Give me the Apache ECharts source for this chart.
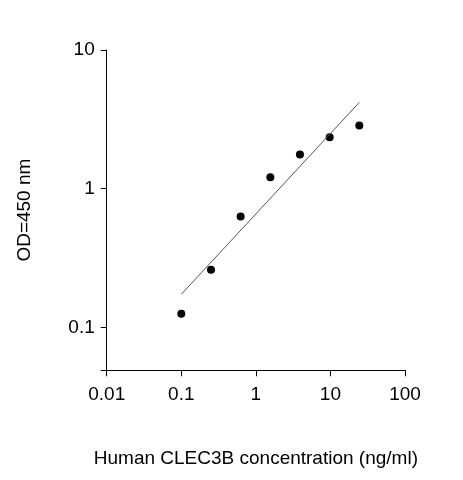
<!DOCTYPE html><html><head><script src="https://cdn.jsdelivr.net/npm/echarts@6/dist/echarts.min.js"></script></head><body style="margin:0"><div id="c" style="width:463px;height:480px"></div><script>
const conc=[0.1,0.25,0.625,1.5625,3.9,9.77,24.4];
const od=[0.125,0.26,0.63,1.21,1.76,2.35,2.85];
const fitX=[0.1,24.4];
const fitY=[0.173,4.19];
const f={fontFamily:'Liberation Sans, Arial',fontSize:19,color:'#000'};
const ax={type:'log',logBase:10,axisLine:{lineStyle:{color:'#000'}},axisTick:{show:true,inside:false,length:6,lineStyle:{color:'#000'}},splitLine:{show:false},axisLabel:Object.assign({},f)};
echarts.init(document.getElementById('c')).setOption({animation:false,
grid:{left:96,right:58,top:50,bottom:100},
xAxis:Object.assign({},ax,{min:0.01,max:100,name:'Human CLEC3B concentration (ng/ml)',nameLocation:'middle',nameGap:72,nameTextStyle:f}),
yAxis:Object.assign({},ax,{min:0.049,max:10,name:'OD=450 nm',nameLocation:'middle',nameGap:66,nameTextStyle:f,
 axisTick:{show:true,length:6,lineStyle:{color:'#000'},interval:(i,v)=>[0.1,1,10].some(t=>Math.abs(v-t)<1e-6)},
 axisLabel:Object.assign({},f,{margin:12,formatter:v=>[0.1,1,10].some(t=>Math.abs(v-t)<1e-9)?String(v):''})}),
series:[{type:'line',data:fitX.map((x,i)=>[x,fitY[i]]),symbol:'none',lineStyle:{color:'#555',width:1}},
{type:'scatter',data:conc.map((x,i)=>[x,od[i]]),symbolSize:8,itemStyle:{color:'#000',opacity:1}}]});
</script></body></html>
